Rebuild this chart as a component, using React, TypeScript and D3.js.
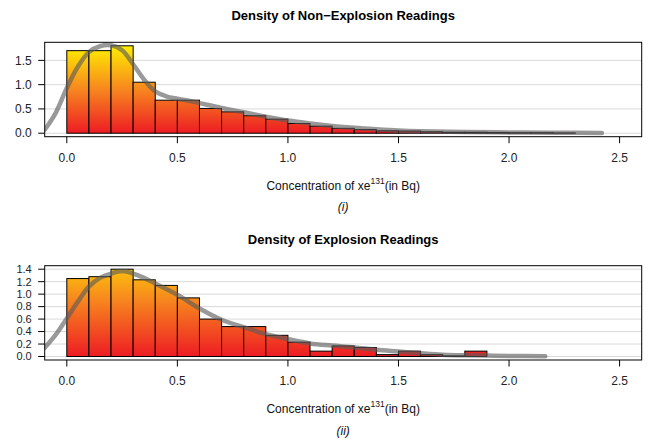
import React from 'react';
import * as d3 from 'd3';

// histogram heights, bins of width 0.1 starting at 0
const binWidth = 0.1;
const nonExplosionBars = [1.70, 1.70, 1.80, 1.05, 0.68, 0.68, 0.51, 0.44, 0.36, 0.29, 0.20, 0.145, 0.10, 0.075, 0.05, 0.045, 0.03, 0.02, 0.02, 0.015, 0.01, 0.01, 0.005];
const explosionBars = [1.25, 1.28, 1.40, 1.23, 1.14, 0.94, 0.60, 0.48, 0.48, 0.34, 0.23, 0.086, 0.17, 0.145, 0.03, 0.086, 0.03, 0.01, 0.086];

// density curves (x, y)
const nonExplosionKdeX = [-0.1, -0.05, 0, 0.05, 0.1, 0.15, 0.2, 0.25, 0.3, 0.35, 0.4, 0.45, 0.5, 0.55, 0.6, 0.7, 0.8, 0.9, 1.0, 1.1, 1.2, 1.3, 1.4, 1.5, 1.6, 1.8, 2.0, 2.2, 2.42];
const nonExplosionKdeY = [0.07, 0.42, 0.93, 1.37, 1.67, 1.79, 1.81, 1.71, 1.42, 1.10, 0.86, 0.76, 0.71, 0.67, 0.62, 0.52, 0.43, 0.34, 0.26, 0.20, 0.15, 0.11, 0.08, 0.055, 0.04, 0.025, 0.015, 0.01, 0.005];
const explosionKdeX = [-0.1, -0.05, 0, 0.05, 0.1, 0.15, 0.2, 0.25, 0.3, 0.35, 0.4, 0.5, 0.6, 0.7, 0.8, 0.9, 1.0, 1.1, 1.2, 1.3, 1.4, 1.5, 1.6, 1.7, 1.8, 1.9, 2.0, 2.164];
const explosionKdeY = [0.14, 0.35, 0.61, 0.88, 1.12, 1.26, 1.33, 1.37, 1.33, 1.26, 1.17, 0.99, 0.77, 0.59, 0.47, 0.36, 0.28, 0.21, 0.175, 0.145, 0.107, 0.08, 0.053, 0.03, 0.02, 0.015, 0.01, 0.005];

const xTicks = [0, 0.5, 1.0, 1.5, 2.0, 2.5];
const nonExplosionYTicks = [0, 0.5, 1.0, 1.5];
const explosionYTicks = [0, 0.2, 0.4, 0.6, 0.8, 1.0, 1.2, 1.4];

const font = 'Liberation Sans, Arial, Helvetica, sans-serif';

type PanelProps = {
  id: string;
  title: string;
  caption: string;
  top: number;
  bottom: number;
  yMax: number;
  yTicks: number[];
  yTickSize: number;
  bars: number[];
  kdeX: number[];
  kdeY: number[];
  titleY: number;
  tickLabelY: number;
  axisTitleY: number;
  captionY: number;
};

function Panel(p: PanelProps) {
  const left = 44.7, right = 641.7;
  const x = d3.scaleLinear().domain([-0.1, 2.6]).range([left, right]);
  const pad = p.yMax * 0.04;
  const y = d3.scaleLinear().domain([-pad, p.yMax + pad]).range([p.bottom, p.top]);
  const line = d3.line<number>()
    .x((_, i) => x(p.kdeX[i]))
    .y(d => y(d))
    .curve(d3.curveCatmullRom);
  const cx = (left + right) / 2;
  return (
    <g>
      <defs>
        <linearGradient id={p.id} gradientUnits="userSpaceOnUse" x1={0} x2={0} y1={y(0)} y2={y(1.8)}>
          <stop offset="0" stopColor="#ED1C24" />
          <stop offset="0.5" stopColor="#F7861E" />
          <stop offset="1" stopColor="#FFEE00" />
        </linearGradient>
        <clipPath id={p.id + '-clip'}>
          <rect x={left} y={p.top} width={right - left} height={p.bottom - p.top} />
        </clipPath>
      </defs>
      <text x={cx} y={p.titleY} textAnchor="middle" fontFamily={font} fontWeight="bold" fontSize={13}>{p.title}</text>
      {p.yTicks.map(t => (
        <line key={'g' + t} x1={left} x2={right} y1={y(t)} y2={y(t)} stroke="#d9d9d9" strokeWidth={1} />
      ))}
      {p.bars.map((v, i) => (
        <rect key={'b' + i} x={x(i * binWidth)} y={y(v)} width={x(binWidth) - x(0)} height={y(0) - y(v)}
          fill={`url(#${p.id})`} stroke="#000" strokeWidth={1} />
      ))}
      <g clipPath={`url(#${p.id}-clip)`}>
        <path d={line(p.kdeY) || ''} fill="none" stroke="rgba(90,90,90,0.62)" strokeWidth={4.5} strokeLinecap="round" strokeLinejoin="round" />
      </g>
      <rect x={left} y={p.top} width={right - left} height={p.bottom - p.top} fill="none" stroke="#000" strokeWidth={1} />
      {p.yTicks.map(t => (
        <g key={'y' + t}>
          <line x1={left - 6.5} x2={left} y1={y(t)} y2={y(t)} stroke="#000" />
          <text x={left - 13} y={y(t)} dy="0.35em" textAnchor="end" fontFamily={font} fontSize={p.yTickSize} fill="#222">{t.toFixed(1)}</text>
        </g>
      ))}
      {xTicks.map(t => (
        <g key={'x' + t}>
          <line x1={x(t)} x2={x(t)} y1={p.bottom} y2={p.bottom + 6.5} stroke="#000" />
          <text x={x(t)} y={p.tickLabelY} textAnchor="middle" fontFamily={font} fontSize={12} fill="#222">{t.toFixed(1)}</text>
        </g>
      ))}
      <text x={cx} y={p.axisTitleY} textAnchor="middle" fontFamily={font} fontSize={12} fill="#111">
        Concentration of xe<tspan dy={-6} fontSize={8.5}>131</tspan><tspan dy={6}>(in Bq)</tspan>
      </text>
      <text x={cx} y={p.captionY} textAnchor="middle" fontFamily={font} fontStyle="italic" fontSize={12} fill="#111">{p.caption}</text>
    </g>
  );
}

export default function App() {
  return (
    <svg width={654} height={443} style={{position: 'absolute', left: 0, top: 0, background: '#fff'}}>
      <Panel id="gradA" title="Density of Non−Explosion Readings" caption="(i)"
        top={42.3} bottom={136.7} yMax={1.8} yTicks={nonExplosionYTicks} yTickSize={12} bars={nonExplosionBars}
        kdeX={nonExplosionKdeX} kdeY={nonExplosionKdeY}
        titleY={19.5} tickLabelY={162} axisTitleY={190} captionY={211} />
      <Panel id="gradB" title="Density of Explosion Readings" caption="(ii)"
        top={265.7} bottom={360} yMax={1.4} yTicks={explosionYTicks} yTickSize={11} bars={explosionBars}
        kdeX={explosionKdeX} kdeY={explosionKdeY}
        titleY={244} tickLabelY={385} axisTitleY={413} captionY={435} />
    </svg>
  );
}
